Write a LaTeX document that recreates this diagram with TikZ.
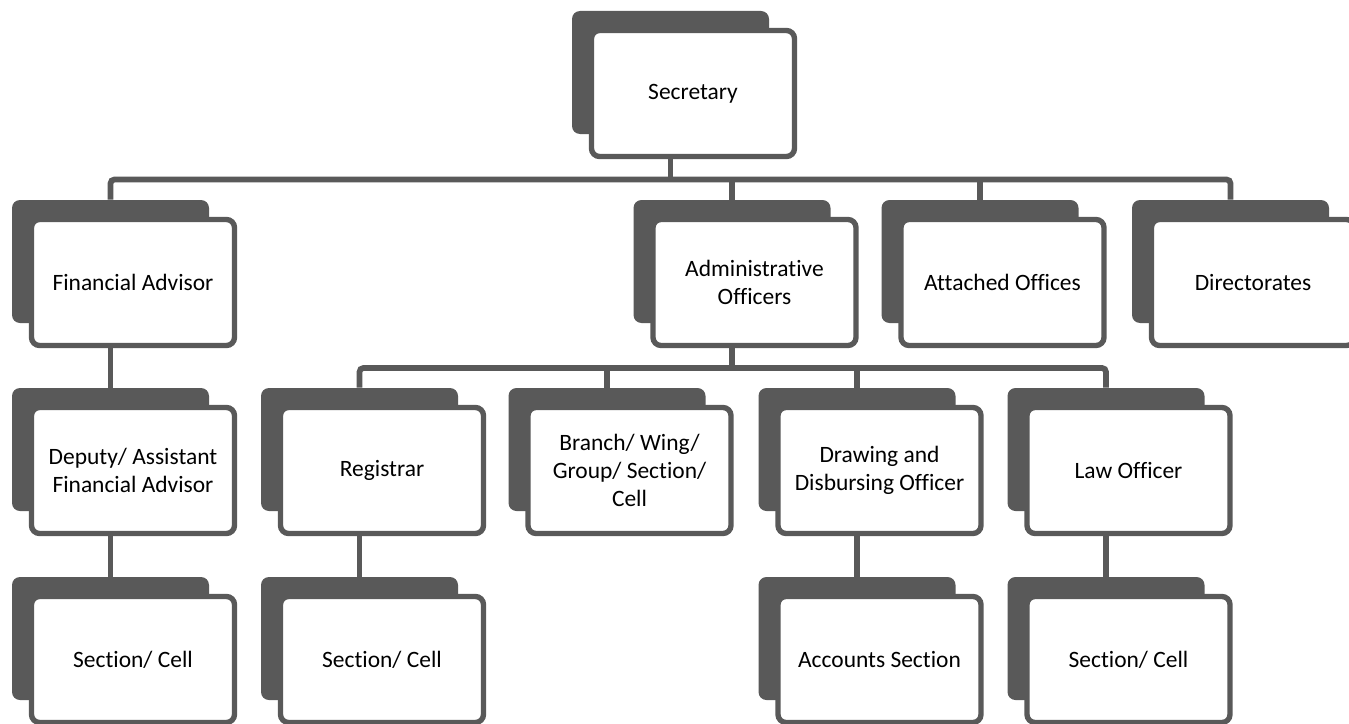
\documentclass[tikz,border=0pt]{standalone}
\usepackage{fontspec}
\setmainfont{Carlito}[Ligatures=CommonOff]
\usetikzlibrary{calc}
\definecolor{boxgray}{RGB}{89,89,89}
\begin{document}
\begin{tikzpicture}[x=.75pt,y=-.75pt,
		unit/.style={draw=boxgray, line width=4pt, fill=white, rounded corners=6pt, minimum width=152.25pt, minimum height=94.5pt, inner sep=0pt, align=center, font=\fontsize{17.6}{21}\selectfont},
		back/.style={fill=boxgray, rounded corners=6pt, minimum width=147.75pt, minimum height=92.25pt, inner sep=0pt, xshift=-16.875pt, yshift=15.75pt},
		link/.style={draw=boxgray, line width=4.3pt, rounded corners=3pt}]
				\useasboundingbox (0,0) rectangle (1349,724);
				\coordinate (csec) at (693,93.5);
				\coordinate (cfin) at (133,282.5);
				\coordinate (cadm) at (754.5,282.5);
				\coordinate (catt) at (1002.5,282.5);
				\coordinate (cdir) at (1253,282.5);
				\coordinate (cdep) at (133,470.5);
				\coordinate (creg) at (382,470.5);
				\coordinate (cbra) at (629.5,470.5);
				\coordinate (cdra) at (879.5,470.5);
				\coordinate (claw) at (1128.5,470.5);
				\coordinate (csfin) at (133,659.5);
				\coordinate (csreg) at (382,659.5);
				\coordinate (cacc) at (879.5,659.5);
				\coordinate (cslaw) at (1128.5,659.5);
				
				\foreach \c in {sec,fin,adm,att,dir,dep,reg,bra,dra,law,sfin,sreg,acc,slaw}
					\node[back] (b\c) at (c\c) {};
				
				\node[unit] (sec) at (csec) {Secretary};
				\node[unit] (fin) at (cfin) {Financial Advisor};
				\node[unit] (adm) at (cadm) {Administrative\\Officers};
				\node[unit] (att) at (catt) {Attached Offices};
				\node[unit] (dir) at (cdir) {Directorates};
				\node[unit] (dep) at (cdep) {Deputy/ Assistant\\Financial Advisor};
				\node[unit] (reg) at (creg) {Registrar};
				\node[unit] (bra) at (cbra) {Branch/ Wing/\\Group/ Section/\\Cell};
				\node[unit] (dra) at (cdra) {Drawing and\\Disbursing Officer};
				\node[unit] (law) at (claw) {Law Officer};
				\node[unit] (sfin) at (csfin) {Section/ Cell};
				\node[unit] (sreg) at (csreg) {Section/ Cell};
				\node[unit] (acc) at (cacc) {Accounts Section};
				\node[unit] (slaw) at (cslaw) {Section/ Cell};
				
				\coordinate (busa) at ($(sec.south)!.5!(bfin.north)$);
				\coordinate (busb) at ($(adm.south)!.5!(bbra.north)$);
				\draw[link] (bfin.north) |- (busa) -| (bdir.north);
				\draw[link] (sec.south -| bsec) -- (busa -| bsec);
				\draw[link] (badm.north) -- (badm |- busa);
				\draw[link] (batt.north) -- (batt |- busa);
				\draw[link] (breg.north) |- (busb) -| (blaw.north);
				\draw[link] (adm.south -| badm) -- (busb -| badm);
				\draw[link] (bbra.north) -- (bbra |- busb);
				\draw[link] (bdra.north) -- (bdra |- busb);
				\draw[link] (fin.south -| bfin) -- (bdep.north);
				\draw[link] (dep.south -| bdep) -- (bsfin.north);
				\draw[link] (reg.south -| breg) -- (bsreg.north);
				\draw[link] (dra.south -| bdra) -- (bacc.north);
				\draw[link] (law.south -| blaw) -- (bslaw.north);
		\end{tikzpicture}
\end{document}
